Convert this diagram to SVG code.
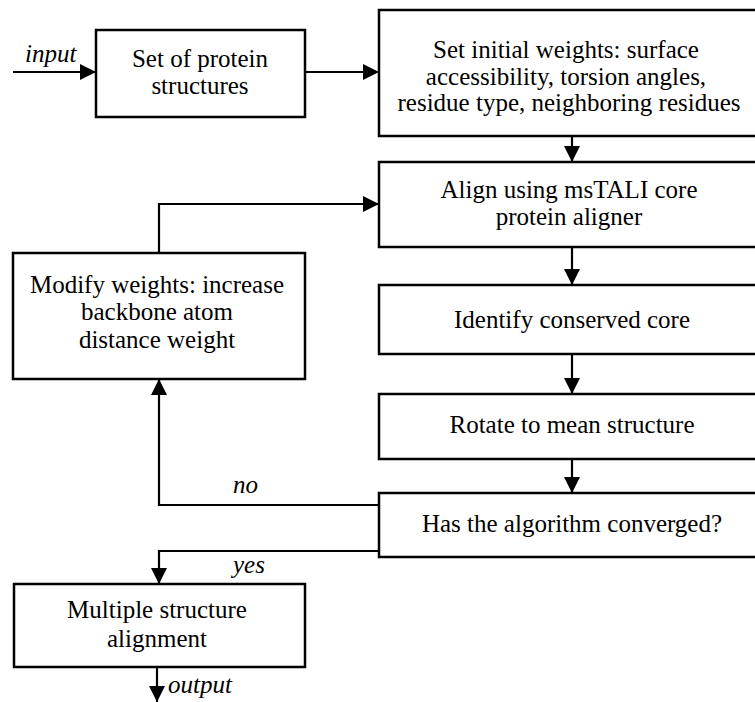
<svg xmlns="http://www.w3.org/2000/svg" width="755" height="702" viewBox="0 0 755 702">
<style>
.box{fill:#fff;stroke:#000;stroke-width:2.5}
.t{font-family:"Liberation Serif","Times New Roman",serif;font-size:25px;fill:#000;text-anchor:middle}
.lbl{font-family:"Liberation Serif","Times New Roman",serif;font-size:25px;font-style:italic;fill:#000}
.ln{fill:none;stroke:#000;stroke-width:2.2}
</style>
<defs>
<marker id="ah" viewBox="0 0 10 10" refX="10" refY="5" markerWidth="16" markerHeight="16" markerUnits="userSpaceOnUse" orient="auto">
<path d="M0,0 L10,5 L0,10 z" fill="#000"/>
</marker>
</defs>
<rect width="755" height="702" fill="#fff"/>
<g id="connectors">
<path class="ln" d="M13,72 H96" marker-end="url(#ah)"/>
<path class="ln" d="M305,72 H379" marker-end="url(#ah)"/>
<path class="ln" d="M572,136 V162" marker-end="url(#ah)"/>
<path class="ln" d="M159,253 V204 H379" marker-end="url(#ah)"/>
<path class="ln" d="M572,247 V285" marker-end="url(#ah)"/>
<path class="ln" d="M572,354 V394" marker-end="url(#ah)"/>
<path class="ln" d="M572,459 V493" marker-end="url(#ah)"/>
<path class="ln" d="M379,505 H159 V379" marker-end="url(#ah)"/>
<path class="ln" d="M379,551 H159 V584" marker-end="url(#ah)"/>
<path class="ln" d="M157,667 V702" marker-end="url(#ah)"/>
<text class="lbl" x="25" y="62">input</text>
<text class="lbl" x="233" y="493">no</text>
<text class="lbl" x="233" y="573">yes</text>
<text class="lbl" x="168" y="693">output</text>
</g>
<g id="n1">
<rect class="box" x="96" y="30" width="209" height="87"/>
<text class="t" x="200" y="67">Set of protein</text>
<text class="t" x="200" y="94">structures</text>
</g>
<g id="n2">
<rect class="box" x="379" y="10" width="390" height="126"/>
<text class="t" x="566" y="58">Set initial weights: surface</text>
<text class="t" x="566" y="85">accessibility, torsion angles,</text>
<text class="t" x="569" y="111">residue type, neighboring residues</text>
</g>
<g id="n3">
<rect class="box" x="379" y="162" width="390" height="85"/>
<text class="t" x="569" y="198">Align using msTALI core</text>
<text class="t" x="569" y="225">protein aligner</text>
</g>
<g id="n4">
<rect class="box" x="13" y="253" width="292" height="126"/>
<text class="t" x="157" y="293">Modify weights: increase</text>
<text class="t" x="157" y="320">backbone atom</text>
<text class="t" x="157" y="348">distance weight</text>
</g>
<g id="n5">
<rect class="box" x="379" y="285" width="390" height="69"/>
<text class="t" x="572" y="328">Identify conserved core</text>
</g>
<g id="n6">
<rect class="box" x="379" y="394" width="390" height="65"/>
<text class="t" x="572" y="433">Rotate to mean structure</text>
</g>
<g id="n7">
<rect class="box" x="379" y="493" width="390" height="64"/>
<text class="t" x="572" y="532">Has the algorithm converged?</text>
</g>
<g id="n8">
<rect class="box" x="14" y="584" width="291" height="83"/>
<text class="t" x="157" y="618">Multiple structure</text>
<text class="t" x="157" y="647">alignment</text>
</g>
</svg>
